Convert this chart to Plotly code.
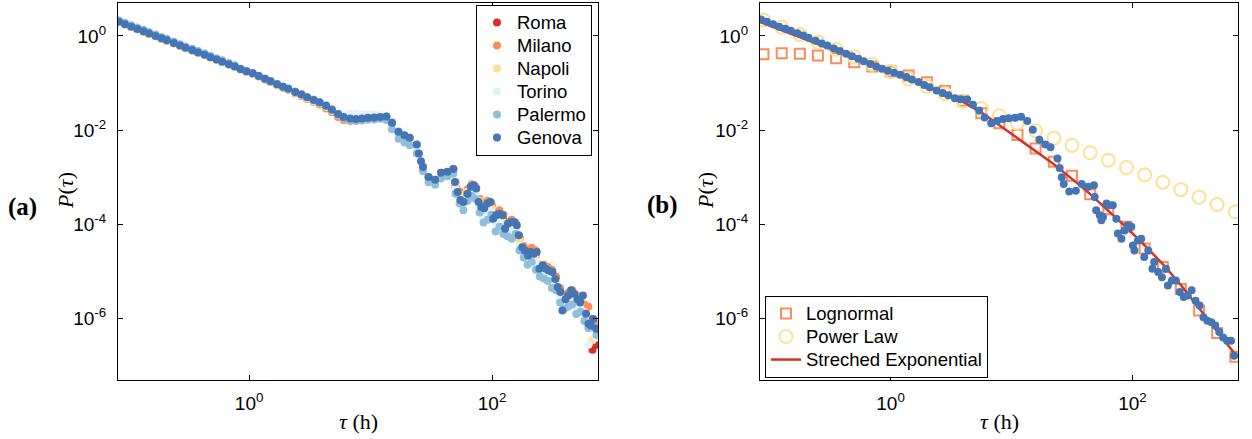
import plotly.graph_objects as go

# ---------------- data: panel (a) ----------------
cities = ["Roma", "Milano", "Napoli", "Torino", "Palermo", "Genova"]
city_colors = ["#d73027", "#fc8d59", "#fee090", "#e0f3f8", "#91bfdb", "#4575b4"]

tau_dense = [0.085, 0.095, 0.107, 0.12, 0.135, 0.15, 0.17, 0.19, 0.21, 0.24,
             0.27, 0.3, 0.34, 0.38, 0.43, 0.48, 0.54, 0.6, 0.68, 0.76,
             0.85, 0.95, 1.07, 1.2, 1.35, 1.5, 1.7, 1.9, 2.1, 2.4,
             2.7, 3.0, 3.4, 3.8, 4.3, 4.8, 5.4, 6.0, 6.8, 7.6,
             8.5, 9.5, 10.7, 12, 13.5, 15, 17, 19, 21, 24,
             27, 30, 34, 38, 43, 48]

roma_dense = [1.99, 1.77, 1.57, 1.4, 1.25, 1.12, 0.995, 0.885, 0.805, 0.705,
              0.625, 0.556, 0.497, 0.445, 0.398, 0.353, 0.314, 0.283, 0.248, 0.222,
              0.198, 0.177, 0.16, 0.14, 0.122, 0.108, 0.093, 0.082, 0.074, 0.063,
              0.055, 0.048, 0.042, 0.037, 0.031, 0.026, 0.0205, 0.0178, 0.0168, 0.0168,
              0.0174, 0.018, 0.0183, 0.0187, 0.019, 0.0142, 0.009, 0.0076, 0.0067, 0.0048,
              0.0016, 0.001, 0.00087, 0.00124, 0.0013, 0.00148]
milano_dense = [1.97, 1.75, 1.56, 1.39, 1.24, 1.11, 0.985, 0.875, 0.8, 0.7,
                0.62, 0.552, 0.493, 0.44, 0.394, 0.35, 0.311, 0.28, 0.246, 0.22,
                0.196, 0.175, 0.158, 0.138, 0.12, 0.106, 0.091, 0.08, 0.072, 0.061,
                0.053, 0.046, 0.04, 0.035, 0.029, 0.024, 0.019, 0.0165, 0.0158, 0.016,
                0.0168, 0.0176, 0.018, 0.0185, 0.019, 0.0142, 0.009, 0.0076, 0.0067, 0.0048,
                0.0017, 0.001, 0.00088, 0.00125, 0.0013, 0.0015]
napoli_dense = [1.98, 1.76, 1.56, 1.4, 1.25, 1.12, 0.99, 0.885, 0.805, 0.705,
                0.625, 0.555, 0.497, 0.444, 0.397, 0.352, 0.313, 0.282, 0.247, 0.221,
                0.198, 0.176, 0.16, 0.139, 0.122, 0.108, 0.093, 0.082, 0.074, 0.063,
                0.055, 0.048, 0.042, 0.037, 0.031, 0.026, 0.021, 0.018, 0.017, 0.0168,
                0.0172, 0.0178, 0.018, 0.0184, 0.0188, 0.014, 0.0088, 0.0074, 0.0065, 0.0046,
                0.0016, 0.00097, 0.00085, 0.0012, 0.00127, 0.00145]
torino_dense = [1.95, 1.74, 1.55, 1.39, 1.24, 1.11, 0.98, 0.88, 0.8, 0.7,
                0.62, 0.555, 0.495, 0.442, 0.395, 0.35, 0.312, 0.28, 0.246, 0.22,
                0.197, 0.176, 0.16, 0.14, 0.123, 0.108, 0.094, 0.083, 0.075, 0.064,
                0.056, 0.049, 0.043, 0.0385, 0.033, 0.028, 0.023, 0.021, 0.022, 0.0225,
                0.0215, 0.022, 0.0215, 0.021, 0.0205, 0.0155, 0.0098, 0.0079, 0.0066, 0.0045,
                0.0017, 0.00098, 0.00085, 0.0012, 0.00125, 0.0014]
palermo_dense = [2.14, 1.9, 1.69, 1.51, 1.35, 1.21, 1.07, 0.95, 0.87, 0.76,
                 0.67, 0.6, 0.535, 0.478, 0.43, 0.38, 0.338, 0.305, 0.268, 0.24,
                 0.202, 0.18, 0.164, 0.143, 0.126, 0.111, 0.096, 0.085, 0.077, 0.066,
                 0.058, 0.051, 0.045, 0.04, 0.034, 0.027, 0.021, 0.018, 0.0162, 0.0158,
                 0.016, 0.0166, 0.017, 0.0175, 0.0165, 0.0105, 0.0066, 0.0055, 0.0048, 0.0032,
                 0.00135, 0.00079, 0.0007, 0.00095, 0.00105, 0.0012]
genova_dense = [2.0, 1.78, 1.58, 1.41, 1.26, 1.13, 1.0, 0.89, 0.81, 0.71,
                0.63, 0.56, 0.5, 0.447, 0.4, 0.355, 0.316, 0.285, 0.25, 0.224,
                0.2, 0.178, 0.162, 0.141, 0.124, 0.11, 0.095, 0.084, 0.076, 0.065,
                0.057, 0.05, 0.044, 0.039, 0.033, 0.0275, 0.022, 0.019, 0.0178, 0.0174,
                0.0178, 0.0184, 0.0186, 0.019, 0.0195, 0.0145, 0.0093, 0.0078, 0.0069, 0.005,
                0.00166, 0.00102, 0.00089, 0.00126, 0.00132, 0.00151]

tau_tail = [50, 54, 58, 63, 68, 73, 79, 85, 92, 99,
            107, 115, 124, 134, 145, 156, 168, 182, 196, 212,
            229, 247, 267, 288, 311, 336, 363, 392, 423, 457,
            493, 533, 575, 621, 671, 724]

roma_tail = [6.3e-4, 4.0e-4, 3.5e-4, 5.0e-4, 6.3e-4, 5.6e-4, 3.2e-4, 2.2e-4, 2.8e-4, 2.5e-4,
             1.6e-4, 1.6e-4, 1.26e-4, 1.0e-4, 1.1e-4, 8.9e-5, 5.0e-5, 3.2e-5, 2.5e-5, 2.5e-5,
             2.2e-5, 1.26e-5, 1.26e-5, 1.0e-5, 1.0e-5, 7.1e-6, 4.0e-6, 2.8e-6, 3.2e-6, 3.5e-6,
             2.5e-6, 2.2e-6, 1.6e-6, 7.9e-7, 2.2e-7, 2.8e-7]
milano_tail = [7.9e-4, 5.0e-4, 4.0e-4, 5.6e-4, 7.1e-4, 6.3e-4, 3.5e-4, 2.8e-4, 3.2e-4, 2.8e-4,
               1.8e-4, 2.0e-4, 1.6e-4, 1.1e-4, 1.26e-4, 1.1e-4, 5.6e-5, 3.5e-5, 2.8e-5, 3.2e-5,
               2.8e-5, 1.4e-5, 1.4e-5, 1.26e-5, 1.1e-5, 7.9e-6, 4.5e-6, 3.2e-6, 3.5e-6, 4.0e-6,
               3.2e-6, 2.8e-6, 2.0e-6, 1.8e-6, 1.0e-6, 7.9e-7]
napoli_tail = [7.1e-4, 4.5e-4, 3.2e-4, 5.0e-4, 5.6e-4, 5.6e-4, 3.2e-4, 2.0e-4, 2.5e-4, 2.2e-4,
               1.4e-4, 1.4e-4, 1.1e-4, 8.9e-5, 1.0e-4, 8.9e-5, 4.5e-5, 2.8e-5, 2.2e-5, 2.2e-5,
               2.0e-5, 1.1e-5, 1.1e-5, 8.9e-6, 8.9e-6, 6.3e-6, 3.5e-6, 2.5e-6, 2.8e-6, 3.2e-6,
               2.2e-6, 2.0e-6, 1.4e-6, 7.1e-7, 3.5e-7, 5.0e-7]
torino_tail = [5.6e-4, 3.5e-4, 2.8e-4, 4.0e-4, 5.0e-4, 4.5e-4, 2.5e-4, 1.4e-4, 2.0e-4, 1.8e-4,
               1.1e-4, 1.26e-4, 7.9e-5, 7.9e-5, 7.1e-5, 7.9e-5, 3.5e-5, 2.5e-5, 1.8e-5, 2.0e-5,
               1.6e-5, 1.0e-5, 8.9e-6, 7.9e-6, 7.1e-6, 5.0e-6, 2.8e-6, 2.0e-6, 2.5e-6, 2.5e-6,
               1.8e-6, 1.6e-6, 1.0e-6, 2.8e-7, 6.3e-7, 4.0e-7]
palermo_tail = [4.5e-4, 2.8e-4, 2.0e-4, 3.2e-4, 4.0e-4, 3.5e-4, 1.8e-4, 1.1e-4, 1.26e-4, 1.6e-4,
                7.1e-5, 8.9e-5, 6.3e-5, 5.6e-5, 5.0e-5, 6.3e-5, 2.8e-5, 2.0e-5, 1.4e-5, 1.6e-5,
                1.1e-5, 7.9e-6, 7.1e-6, 6.3e-6, 4.5e-6, 4.0e-6, 2.2e-6, 1.6e-6, 1.8e-6, 2.0e-6,
                1.26e-6, 1.4e-6, 8.9e-7, 6.3e-7, 7.9e-7, 4.5e-7]

tau_tail_genova = [25, 26, 49.5, 52.1, 54.9, 58.3, 62.8, 66.7, 70.8, 74.1, 77.5, 81.6,
                   86.1, 91.4, 97.0, 102, 108, 114.5, 122, 128, 135, 143,
                   152, 160, 166, 177, 186, 198, 208, 221, 233, 245,
                   261, 277, 292, 314, 331, 347, 365, 379, 403, 425,
                   447, 475, 504, 531, 560, 594, 622, 650, 681, 718]
genova_tail = [0.0032, 0.0022, 8.0e-4, 4.9e-4, 3.3e-4, 3.0e-4, 4.5e-4, 6.3e-4, 6.8e-4, 5.8e-4, 3.0e-4, 2.35e-4,
               2.2e-4, 2.8e-4, 3.0e-4, 1.33e-4, 1.57e-4, 1.7e-4, 1.57e-4, 8.1e-5, 1.04e-4, 1.13e-4,
               1.13e-4, 9.6e-5, 5.9e-5, 3.3e-5, 2.8e-5, 2.2e-5, 2.6e-5, 2.4e-5, 2.6e-5, 1.15e-5,
               1.35e-5, 1.15e-5, 1.06e-5, 9.8e-6, 7.0e-6, 4.7e-6, 3.7e-6, 1.5e-6, 2.6e-6, 3.1e-6,
               4.0e-6, 3.4e-6, 2.6e-6, 2.2e-6, 3.1e-6, 1.27e-6, 7.8e-7, 7.2e-7, 9.9e-7, 6.1e-7]

# ---------------- data: panel (b) ----------------
data_b_dense = [2.24, 2.0, 1.78, 1.58, 1.43, 1.29, 1.15, 1.02, 0.912, 0.794,
                0.697, 0.631, 0.543, 0.479, 0.422, 0.372, 0.327, 0.292, 0.254, 0.226,
                0.202, 0.182, 0.166, 0.15, 0.135, 0.12, 0.105, 0.091, 0.0813, 0.07,
                0.0617, 0.055, 0.0479, 0.0452, 0.0447, 0.0347, 0.0263, 0.0186, 0.0141, 0.0158,
                0.0174, 0.018, 0.0184, 0.0193, 0.0158, 0.0102, 0.0063, 0.005, 0.00437, 0.00251,
                7.2e-4, 5.0e-4, 5.2e-4, 7.2e-4, 6.3e-4, 6.8e-4]
tau_tail_b = [25, 26, 48.7, 50.1, 53.7, 55.3, 57.0, 61.0, 64.7, 68.7,
              73.5, 75.7, 81.0, 86.0, 91.4, 97.8, 100.7, 103.8, 111, 118,
              125, 135, 146, 151, 163, 175, 189, 196, 212, 228,
              246, 265, 286, 308, 332, 358, 386, 416, 448, 483,
              521, 561, 605, 652, 692]
data_b_tail = [0.00158, 0.001, 3.85e-4, 2.0e-4, 1.57e-4, 1.23e-4, 1.45e-4, 2.8e-4, 2.56e-4, 2.56e-4,
               1.33e-4, 6.4e-5, 5.0e-5, 7.5e-5, 9.6e-5, 8.9e-5, 3.6e-5, 2.8e-5, 4.6e-5, 5.0e-5,
               2.04e-5, 2.8e-5, 1.15e-5, 1.6e-5, 9.8e-6, 7.6e-6, 1.15e-5, 5.1e-6, 6.5e-6, 6.5e-6,
               3.7e-6, 2.9e-6, 3.1e-6, 4.0e-6, 2.4e-6, 1.9e-6, 1.08e-6, 9.1e-7, 8.4e-7, 7.2e-7,
               5.2e-7, 4.0e-7, 3.4e-7, 3.4e-7, 1.64e-7]

tau_fit = [0.089, 0.126, 0.178, 0.251, 0.355, 0.501, 0.708, 1.0, 1.41, 2.0,
           2.82, 3.98, 5.62, 7.94, 11.2, 15.8, 22.4, 31.6, 44.7, 63.1,
           89.1, 126, 178, 251, 355, 501, 708]
p_lognormal = [0.41, 0.43, 0.42, 0.385, 0.337, 0.277, 0.224, 0.176, 0.145, 0.104,
               0.068, 0.0424, 0.0228, 0.014, 0.0079, 0.0041, 0.00214, 0.00108, 4.4e-4, 2.1e-4,
               8.9e-5, 3.1e-5, 1.25e-5, 4.3e-6, 1.5e-6, 5.0e-7, 1.57e-7]
p_powerlaw = [2.19, 1.53, 1.07, 0.745, 0.52, 0.363, 0.252, 0.176, 0.122, 0.085,
              0.0596, 0.0415, 0.0289, 0.0202, 0.0141, 0.0098, 0.0068, 0.00477, 0.00333, 0.00232,
              0.00162, 0.00113, 7.9e-4, 5.5e-4, 3.8e-4, 2.66e-4, 1.86e-4]
tau_line = [0.085, 0.126, 0.178, 0.251, 0.355, 0.501, 0.708, 1.0, 1.41, 2.0,
            2.82, 3.98, 5.62, 7.94, 11.2, 15.8, 22.4, 31.6, 44.7, 63.1,
            89.1, 126, 178, 251, 355, 501, 708]
p_stretched = [1.95, 1.33, 0.955, 0.684, 0.49, 0.351, 0.251, 0.178, 0.124, 0.0861,
               0.0589, 0.0398, 0.024, 0.0126, 0.00676, 0.00363, 0.0019, 9.3e-4, 4.4e-4, 1.95e-4,
               8.7e-5, 3.6e-5, 1.45e-5, 5.2e-6, 1.66e-6, 5.5e-7, 1.74e-7]

fit_names = ["Lognormal", "Power Law", "Streched Exponential"]

x_ticks = [1, 100]
x_ticktext = ["10<sup>0</sup>", "10<sup>2</sup>"]
y_ticks = [1, 1e-2, 1e-4, 1e-6]
y_ticktext = ["10<sup>0</sup>", "10<sup>-2</sup>", "10<sup>-4</sup>", "10<sup>-6</sup>"]


def big(label):
    # legend row spacing follows the legend font; the label itself is drawn larger
    return '<span style="font-size:18.5px">' + label + '</span>'


# ---------------- figure ----------------
fig = go.Figure()
dense_vals = [roma_dense, milano_dense, napoli_dense, torino_dense, palermo_dense, genova_dense]
tail_vals = [roma_tail, milano_tail, napoli_tail, torino_tail, palermo_tail, genova_tail]
DOT = 8
for i, name in enumerate(cities):
    ttail = tau_tail_genova if name == "Genova" else tau_tail
    fig.add_trace(go.Scatter(
        x=tau_dense + ttail, y=dense_vals[i] + tail_vals[i],
        mode="markers", name=big(name),
        marker=dict(color=city_colors[i], size=DOT, line=dict(width=0)),
        xaxis="x", yaxis="y", legend="legend"))

fig.add_trace(go.Scatter(
    x=tau_fit, y=p_lognormal, mode="markers", name=big(fit_names[0]),
    marker=dict(symbol="square-open", size=10, color="#fc8d59", line=dict(width=2)),
    xaxis="x2", yaxis="y2", legend="legend2"))
fig.add_trace(go.Scatter(
    x=tau_fit, y=p_powerlaw, mode="markers", name=big(fit_names[1]),
    marker=dict(symbol="circle-open", size=13, color="#fee090", line=dict(width=2)),
    xaxis="x2", yaxis="y2", legend="legend2"))
fig.add_trace(go.Scatter(
    x=tau_line, y=p_stretched, mode="lines", name=big(fit_names[2]),
    line=dict(color="#d73027", width=2.5),
    xaxis="x2", yaxis="y2", legend="legend2"))
fig.add_trace(go.Scatter(
    x=tau_dense + tau_tail_b, y=data_b_dense + data_b_tail, mode="markers",
    marker=dict(color="#4575b4", size=DOT, line=dict(width=0)),
    showlegend=False, xaxis="x2", yaxis="y2"))

tickfont = dict(family="Liberation Sans, Arial, sans-serif", size=19, color="black")
common = dict(type="log", showgrid=False, zeroline=False, showline=True,
              linecolor="black", linewidth=1.2, mirror="ticks", ticks="inside",
              ticklen=5, tickwidth=1, tickcolor="black", tickfont=tickfont)
xr = [-1.079, 2.872]
yr = [-7.3, 0.7]
ydom = [1 - 380 / 439, 1 - 3 / 439]
legfont = dict(family="Liberation Sans, Arial, sans-serif", size=15.4, color="black")

fig.update_layout(
    width=1252, height=439, margin=dict(l=0, r=0, t=0, b=0),
    plot_bgcolor="white", paper_bgcolor="white",
    xaxis=dict(domain=[118 / 1252, 598 / 1252], range=xr, anchor="y", ticklabelstandoff=6,
               tickvals=x_ticks, ticktext=x_ticktext, **common),
    yaxis=dict(domain=ydom, range=yr, anchor="x", ticklabelstandoff=7,
               tickvals=y_ticks, ticktext=y_ticktext, **common),
    xaxis2=dict(domain=[760 / 1252, 1238 / 1252], range=xr, anchor="y2", ticklabelstandoff=6,
                tickvals=x_ticks, ticktext=x_ticktext, **common),
    yaxis2=dict(domain=ydom, range=yr, anchor="x2", ticklabelstandoff=7,
                tickvals=y_ticks, ticktext=y_ticktext, **common),
    legend=dict(x=592 / 1252, y=1 - 5 / 439, xanchor="right", yanchor="top",
                bordercolor="black", borderwidth=1, bgcolor="white",
                font=legfont, tracegroupgap=0),
    legend2=dict(x=765 / 1252, y=1 - 378 / 439, xanchor="left", yanchor="bottom",
                 bordercolor="black", borderwidth=1, bgcolor="white",
                 font=legfont, tracegroupgap=0),
    showlegend=True,
)

serif = "Liberation Serif, Times New Roman, serif"
annos = [
    dict(text="<b>(a)</b>", x=22 / 1252, y=1 - 207 / 439, size=25),
    dict(text="<b>(b)</b>", x=662 / 1252, y=1 - 205 / 439, size=25),
    dict(text="<i>P</i>(<i>τ</i>)", x=65 / 1252, y=1 - 191 / 439, size=22, angle=-90),
    dict(text="<i>P</i>(<i>τ</i>)", x=705 / 1252, y=1 - 191 / 439, size=22, angle=-90),
    dict(text="<i>τ</i> (h)", x=358 / 1252, y=1 - 421 / 439, size=22),
    dict(text="<i>τ</i> (h)", x=999 / 1252, y=1 - 421 / 439, size=22),
]
for a in annos:
    fig.add_annotation(text=a["text"], x=a["x"], y=a["y"], xref="paper", yref="paper",
                       xanchor="center", yanchor="middle", showarrow=False,
                       textangle=a.get("angle", 0),
                       font=dict(family=serif, size=a["size"], color="black"))

fig.write_html("out.html")
